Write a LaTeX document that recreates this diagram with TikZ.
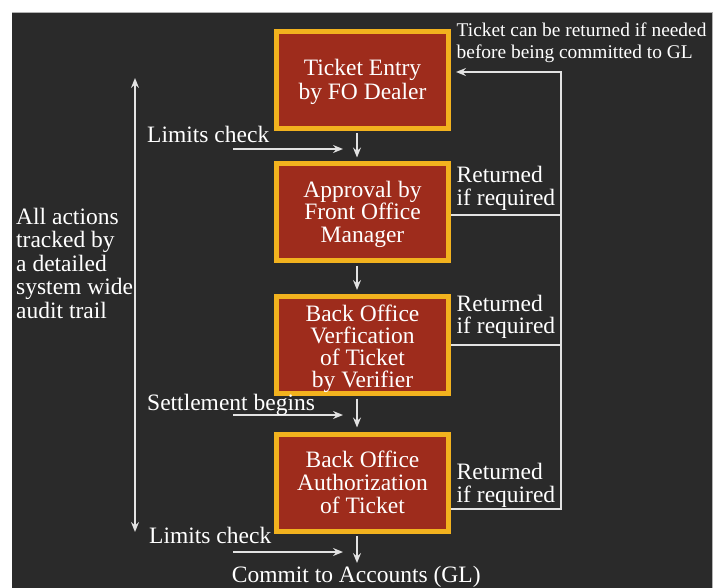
\documentclass[tikz,border=0pt]{standalone}
\usepackage{fontspec}
\setmainfont{Liberation Serif}
\usetikzlibrary{arrows.meta}
\definecolor{bg}{HTML}{2A2A2A}
\definecolor{boxred}{HTML}{9E2C1C}
\definecolor{boxgold}{HTML}{F2B21E}
\definecolor{ln}{HTML}{E2E2E2}
\tikzset{
  stepbox/.style={draw=boxgold, line width=5pt, fill=boxred,
    minimum width=172pt, minimum height=97pt, inner sep=0pt},
  boxtext/.style={text=white, inner sep=0pt, align=center, anchor=north},
  lbl/.style={text=white, inner sep=0pt, align=left, anchor=north west},
  single/.style={text=white, inner sep=0pt, anchor=base west,
    font=\fontsize{23.5}{23.5}\selectfont},
  conn/.style={draw=ln, line width=2.3pt},
  arr/.style={conn, -{Stealth[length=10pt,width=8pt,inset=3.5pt]}},
  darr/.style={conn, {Stealth[length=10pt,width=8pt,inset=3.5pt]}-{Stealth[length=10pt,width=8pt,inset=3.5pt]}}
}
\begin{document}
\begin{tikzpicture}[x=1pt,y=-1pt]
\useasboundingbox (0,0) rectangle (715,588);
\fill[white] (0,0) rectangle (715,588);
\fill[bg] (12,12) rectangle (712,588);
\draw[gray!60, line width=0.8pt] (12,12) -- (712,12) -- (712,588);

\node[stepbox] (b1) at (362.5,80) {};
\node[stepbox] (b2) at (362.5,212.5) {};
\node[stepbox] (b3) at (362.5,345) {};
\node[stepbox] (b4) at (362.5,482.5) {};

\node[boxtext, font=\fontsize{23.5}{24}\selectfont] (t1) at (362.5,58.85) {Ticket Entry\\by FO Dealer};
\node[boxtext, font=\fontsize{23.5}{22.2}\selectfont] (t2) at (362.5,181.25) {Approval by\\Front Office\\Manager};
\node[boxtext, font=\fontsize{23.5}{22}\selectfont] (t3) at (362.5,304.55) {Back Office\\Verfication\\of Ticket\\by Verifier};
\node[boxtext, font=\fontsize{23.5}{23}\selectfont] (t4) at (362.5,451.25) {Back Office\\Authorization\\of Ticket};

% down arrows
\draw[arr, shorten <=2.5pt, shorten >=4pt] ([xshift=-5.5pt]b1.south) -- ([xshift=-5.5pt]b2.north);
\draw[arr, shorten <=2.5pt, shorten >=4pt] ([xshift=-5.5pt]b2.south) -- ([xshift=-5.5pt]b3.north);
\draw[arr, shorten <=2.5pt, shorten >=4pt] ([xshift=-5.5pt]b3.south) -- ([xshift=-5.5pt]b4.north);
\coordinate (gl) at (357,563);
\draw[arr, shorten <=2.5pt] ([xshift=-5.5pt]b4.south) -- (gl);

% side inputs
\coordinate (lc1s) at (233,149); \coordinate (lc1e) at (343,149);
\coordinate (sbs) at (233,415); \coordinate (sbe) at (343,415);
\coordinate (lc2s) at (233,552); \coordinate (lc2e) at (343,552);
\draw[arr] (lc1s) -- (lc1e);
\draw[arr] (sbs) -- (sbe);
\draw[arr] (lc2s) -- (lc2e);

% return path
\coordinate (r1) at (561,72);
\coordinate (r2) at (561,215);
\coordinate (r3) at (561,345);
\coordinate (r4) at (561,509);
\coordinate (tp) at (456,72);
\draw[conn] (b2.east |- r2) -- (r2);
\draw[conn] (b3.east |- r3) -- (r3);
\draw[arr] (b4.east |- r4) -- (r4) -- (r1) -- (tp);

% audit trail arrow
\coordinate (a1) at (135,78);
\coordinate (a2) at (135,532);
\draw[darr] (a1) -- (a2);

% labels
\node[lbl, font=\fontsize{19.4}{22.8}\selectfont] (tr) at (456.5,22.25) {Ticket can be returned if needed\\before being committed to GL};
\node[lbl, font=\fontsize{23.5}{22.7}\selectfont] (rt2) at (456.5,166.25) {Returned\\if required};
\node[lbl, font=\fontsize{23.5}{22.7}\selectfont] (rt3) at (456.5,294.55) {Returned\\if required};
\node[lbl, font=\fontsize{23.5}{22.7}\selectfont] (rt4) at (456.5,463) {Returned\\if required};
\node[lbl, font=\fontsize{23.5}{23.6}\selectfont] (audit) at (16,207.55) {All actions\\tracked by\\a detailed\\system wide\\audit trail};
\node[single] (l1) at (147,142.3) {Limits check};
\node[single] (l2) at (147,410) {Settlement begins};
\node[single] (l3) at (149,543.3) {Limits check};
\node[single] (l4) at (231.7,582) {Commit to Accounts (GL)};
\end{tikzpicture}
\end{document}
